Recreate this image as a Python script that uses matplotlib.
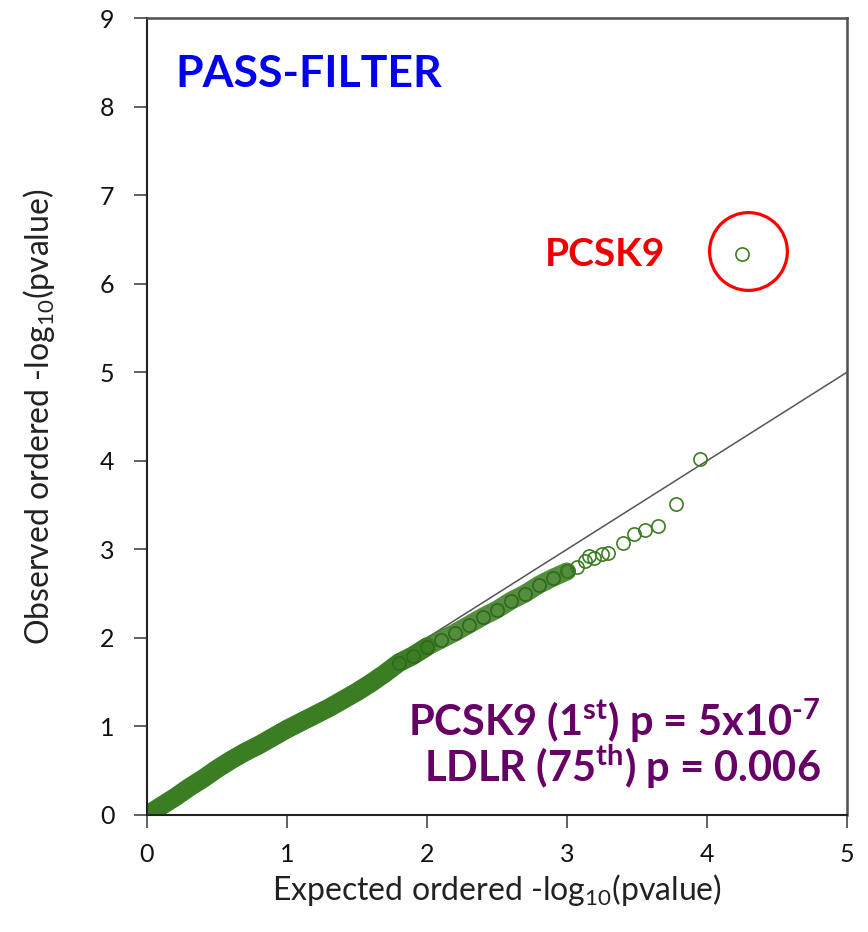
import numpy as np
import matplotlib
matplotlib.use('Agg')
import matplotlib.pyplot as plt

plt.rcParams['font.family'] = ['Lato', 'DejaVu Sans']
plt.rcParams['mathtext.fontset'] = 'custom'
plt.rcParams['mathtext.rm'] = 'Lato'
plt.rcParams['mathtext.bf'] = 'Lato:bold'
plt.rcParams['mathtext.default'] = 'regular'

# dense part of the QQ curve (expected, observed)
band_exp = [0.0, 0.1, 0.2, 0.3, 0.4, 0.5, 0.6, 0.7, 0.8, 0.9, 1.0, 1.1, 1.2, 1.3, 1.4,
            1.5, 1.6, 1.7, 1.8, 1.9, 2.0, 2.1, 2.2, 2.3, 2.4, 2.5, 2.6, 2.7, 2.8, 2.9, 3.0]
band_obs = [0.0, 0.1, 0.2, 0.31, 0.41, 0.52, 0.62, 0.71, 0.79, 0.88, 0.97, 1.05, 1.13, 1.21, 1.30,
            1.39, 1.49, 1.60, 1.72, 1.80, 1.90, 1.98, 2.06, 2.15, 2.24, 2.32, 2.42, 2.50, 2.60, 2.68, 2.75]

# top-ranked genes (sparse tail)
tail_exp = [3.01, 3.07, 3.13, 3.16, 3.19, 3.25, 3.29, 3.40, 3.48, 3.56, 3.65, 3.78, 3.95, 4.25]
tail_obs = [2.75, 2.80, 2.87, 2.92, 2.90, 2.95, 2.96, 3.07, 3.17, 3.22, 3.26, 3.51, 4.02, 6.33]

green = '#3b7d23'

fig = plt.figure(figsize=(8.68, 9.32), dpi=100)
ax = fig.add_axes([147/868, 117/932, 700/868, 797/932])

ax.plot([0, 5], [0, 5], color='#555555', lw=1.1, zorder=1)

# thick band for the very dense points
ax.plot(band_exp[:21], band_obs[:21], color=green, lw=13.5, solid_capstyle='round', zorder=2)
ax.plot(band_exp[20:], band_obs[20:], color=green, lw=13, solid_capstyle='round', alpha=0.88, zorder=2)
ax.plot(band_exp[18:], band_obs[18:], 'o', ms=9.5, mfc='none', mec='#2f6a1a', mew=1.2, zorder=3)
ax.plot(tail_exp, tail_obs, 'o', ms=9.5, mfc='none', mec=green, mew=1.2, zorder=3)

# red circle around PCSK9
ax.plot([4.29], [6.37], 'o', ms=56, mfc='none', mec='red', mew=2.3, zorder=4, clip_on=False)

ax.set_xlim(0, 5)
ax.set_ylim(0, 9)
ax.set_xticks(range(0, 6))
ax.set_yticks(range(0, 10))
ax.tick_params(axis='both', direction='out', length=9.5, width=1.3, color='#555555',
               labelsize=18, labelcolor='#111111')
ax.tick_params(axis='x', pad=11)
ax.tick_params(axis='y', pad=14)
for s in ['left', 'bottom']:
    ax.spines[s].set_color('#222222')
    ax.spines[s].set_linewidth(1.5)
for s in ['top', 'right']:
    ax.spines[s].set_color('#505050')
    ax.spines[s].set_linewidth(1.8)

ax.set_xlabel('Expected ordered -log$_{10}$(pvalue)', fontsize=23, color='#222222', labelpad=4)
ax.set_ylabel('Observed ordered -log$_{10}$(pvalue)', fontsize=23, color='#222222', labelpad=31)

ax.text(0.04, 0.955, 'PASS-FILTER', transform=ax.transAxes, fontsize=32, fontweight='bold',
        color='#0000ee', va='top', ha='left')
ax.text(3.70, 6.33, 'PCSK9', fontsize=28, fontweight='bold', color='#ee0000', va='center', ha='right')

purple = '#660066'
ax.text(4.81, 0.89, 'PCSK9 (1$^{\\mathbf{st}}$) p = 5x10$^{\\mathbf{\u20107}}$', fontsize=30,
        fontweight='bold', color=purple, ha='right', va='baseline')
ax.text(4.81, 0.37, 'LDLR (75$^{\\mathbf{th}}$) p = 0.006', fontsize=30,
        fontweight='bold', color=purple, ha='right', va='baseline')

fig.savefig('out.png', dpi=100)
